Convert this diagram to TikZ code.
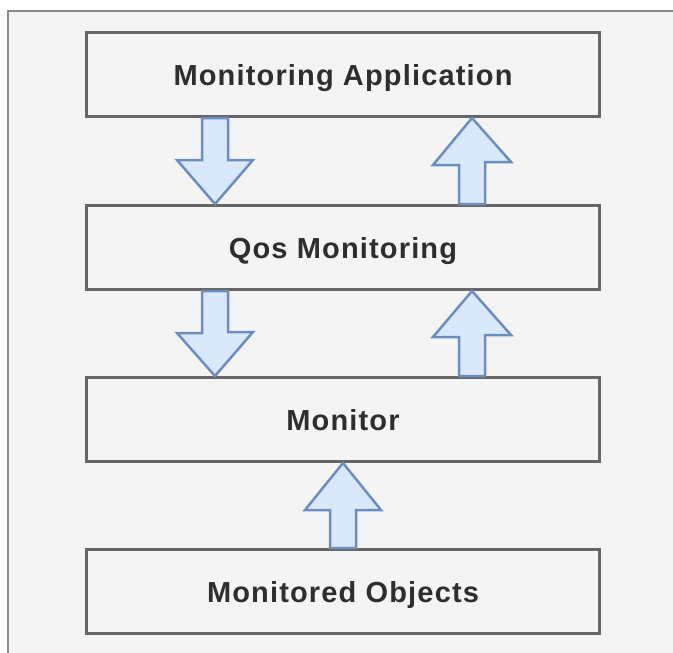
\documentclass[tikz,border=0pt]{standalone}
\usepackage{fontspec}
\setmainfont{Liberation Sans}
\newfontfamily\boxfont[LetterSpace=4]{Liberation Sans}
\definecolor{boxline}{HTML}{666666}
\definecolor{arrline}{HTML}{6C8EBF}
\definecolor{arrfill}{HTML}{DAE8FC}
\definecolor{bgfill}{HTML}{F4F4F4}
\definecolor{frameline}{HTML}{8A8A8A}
\definecolor{txt}{HTML}{2E2E2E}
\begin{document}
\begin{tikzpicture}[x=1pt,y=-1pt,
  layerbox/.style={draw=boxline, line width=3pt, minimum width=513pt, minimum height=84pt,
    inner sep=0pt, text=txt, text height=21pt, text depth=0pt,
    font=\boxfont\fontsize{29}{34}\selectfont\bfseries},
  blockarr/.style={draw=arrline, fill=arrfill, line width=2.5pt, line join=miter}]
\useasboundingbox (0,0) rectangle (673,653);
\fill[white] (0,0) rectangle (673,653);
\fill[bgfill] (8,11) rectangle (673,653);
\draw[frameline, line width=1.5pt] (8,653) -- (8,11) -- (673,11);

\node[layerbox] (ma)  at (343,74.5)  {Monitoring Application};
\node[layerbox] (qm)  at (343,247.5) {Qos Monitoring};
\node[layerbox] (mon) at (343,419.5) {Monitor};
\node[layerbox] (mo)  at (343,591.5) {Monitored Objects};

% down arrows
\draw[blockarr] (202,0 |- ma.south) -- ++(0,42) -- ++(-25,0) -- (215,0 |- qm.north)
  -- ++(38,-44) -- ++(-25,0) -- (228,0 |- ma.south) -- cycle;
\draw[blockarr] (202,0 |- qm.south) -- ++(0,42) -- ++(-25,0) -- (215,0 |- mon.north)
  -- ++(38,-44) -- ++(-25,0) -- (228,0 |- qm.south) -- cycle;
% up arrows
\draw[blockarr] (459,0 |- qm.north) -- ++(0,-39) -- ++(-26,0) -- (472,0 |- ma.south)
  -- ++(39,44) -- ++(-26,0) -- (485,0 |- qm.north) -- cycle;
\draw[blockarr] (459,0 |- mon.north) -- ++(0,-39) -- ++(-26,0) -- (472,0 |- qm.south)
  -- ++(39,44) -- ++(-26,0) -- (485,0 |- mon.north) -- cycle;
\draw[blockarr] (330,0 |- mo.north) -- ++(0,-38) -- ++(-25,0) -- (343,0 |- mon.south)
  -- ++(38,47) -- ++(-25,0) -- (356,0 |- mo.north) -- cycle;
\end{tikzpicture}
\end{document}
